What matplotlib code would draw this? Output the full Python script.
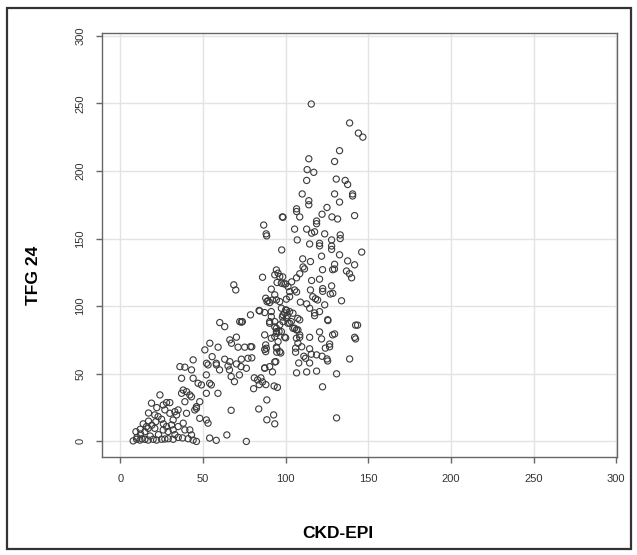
import matplotlib.pyplot as plt
from matplotlib.patches import Rectangle

plt.rcParams['font.family'] = ['Liberation Sans', 'DejaVu Sans']

# CKD-EPI (x) vs TFG 24 (y)
pts = [
    # low cluster
    (7.7,0.4),(9.8,1.6),(11.8,1),(14.8,1.6),(16.8,1),(19.8,1.6),(21.9,1),(24.9,1.6),(26.9,1.8),(28.9,2),(31.9,1.6),
    (9.4,7.2),(12.2,5.5),(14.8,7.2),(16.8,9.7),(20.8,9.7),(15.8,11),(13.8,13),(21.4,14.6),(22.8,18.4),(20.8,19.6),
    (24.9,16.4),(18.8,28.3),(23.9,34.4),(25.9,27),(27.9,28.7),(29.9,28.7),(26.9,23.3),(29.9,20.8),(32.9,22),
    (34.9,23.3),(34,19.6),(31.9,15.9),(30.9,12.2),(27.9,11),(25.9,8.5),(28.9,7.3),(31.9,8.5),(34.9,11),
    (10,3),(13,2),(18,4),(23,5),(12,9),(17,15),(19,12),(35,3),(33,5),(26,13),(22,25),(17,21),
    (37,35.6),(38,38),(40,36.8),(42,34.4),(39,29.4),(43,33),(46,25.7),(45,23.3),(40,20.8),(38,13.5),(39,8.5),
    (42,8.5),(43,4.8),(37,46.7),(36,55.3),(39,54.9),(43,52.9),(44,46.7),(47,43),(49,41.8),(52,49.2),(54,43),
    (55,41.8),(59,35.6),(52,35.6),(48,29.4),(46,24.5),(48,17.1),(52,15.9),(53,13.5),(53,56.6),(58,57.8),(60,52.9),
    (66,52.9),(67,48),(69,44.2),(72,49.2),(73,55.3),(46,0),(44,1),(41,2),(37.6,2.6),(54,2.5),(58,0.8),(64.4,4.8),
    (76.2,0),(67,23),
    # middle
    (86,121.4),(68.6,115.8),(69.8,112),(60.1,87.9),(63.1,84.9),(72.2,88.6),(73.8,88.6),(78.7,93.6),(83.9,96.8),
    (87.3,95.3),(91.3,96),(87.9,105.9),(89.3,104.1),(90.3,102.7),(88.7,103.4),(91.3,112.6),(93.4,108.4),
    (94.4,104.7),(96.4,103.4),(100.4,105.2),(94.4,126.8),(95.4,124.4),(93.4,123.2),(96.4,121.9),(94.8,117.5),
    (97.4,117),(100,116.5),(101.4,114.5),(102.4,110.8),(105.4,112),(97.4,98.5),(100,97.3),(102.4,96),(104.4,94.8),
    (98.4,93.6),(100.4,91.1),(103.4,88.6),(101.4,87.4),(98.4,88.6),(96.4,86.2),(93.4,88.6),(90.3,87.4),(91.3,92.3),
    (105.4,83.7),(107.4,82.5),(87.3,78.8),(94.4,81.2),(96,81.2),(93.4,77.5),(91.3,76.3),(95.4,73.8),(94.4,69.7),
    (96.4,66.4),(70.2,77.1),(66.2,75.1),(67.2,72.6),(54.1,72.6),(59.1,69.7),(71.2,69.7),(75.2,69.7),(78.7,70.1),
    (51.1,67.7),(87.9,71.4),(88.3,68.9),(87.9,66.4),(106.5,76.3),(107.4,72.6),(99.4,77.1),(55.5,62.7),(63.1,60.8),
    (73.2,60.8),(77.2,61.5),(44,60.3),(94,59),(52.1,57.8),(58.1,56.6),(65.1,55.8),(66.2,59),(70.2,57.3),(76.2,54.1),
    (87.3,54.1),(90.3,55.3),(86.7,160),(88.5,152),(88.2,153.5),(98.4,165.8),(97.6,141.6),(73.2,88.2),(84.3,96.5),
    (90.3,88.6),
    # right, upper
    (115.5,249.5),(138.7,235.5),(144,228),(146.7,225),(132.6,215),(114,209),(129.6,207),(113,201),(117,199),
    (130.6,194),(136,193),(137.5,190),(112.7,193),(110,183),(140.5,183),(140.5,181.5),(129.6,183),(114,175),
    (114,178),(132.6,177),(125,173),(106.6,172),(98,166),(106.6,170),(108.5,166),(122,168),(128,166),(131.4,164.5),
    (141.7,167),(118.7,161),(118.7,163),(105.4,157),(112.7,157),(115.7,154),(117.5,155),(123.6,153.5),(133,152.7),
    (133,150),(127.8,149),(107,149),(114.5,146),(120.5,144.6),(120.5,146.5),(127.8,142),(127.8,144.5),(121.7,137),
    (132.6,138),(146,140),(110.3,135),(115,133),(137.5,133.5),(141.7,130.6),(129.6,131),(111.4,127.6),(110.5,129),
    (122.3,127),(128.4,127),(129.5,127.5),(136.8,126),(138.6,124),(139.9,121),(108.5,124),(106.6,121),(115.7,119),
    (120.5,120),(98.2,121.7),(99,116.5),(103.6,118),(115,112),(122.4,113),(122.4,111),(127.8,115),(127,109),
    (128.5,109.5),(133.8,104),(106.6,110.5),(102.4,107),(116.4,107),(118,105.5),(119.3,104.6),(92,104.6),
    (112.7,101.7),(108.9,103),(123.6,101),(99.4,95),(101,93),(98,92),(100.5,97),(107.3,91),(117.5,95),(117.5,93),
    (114.5,98.5),(120.5,96),(125.4,90),(125.6,89.4),(142.3,86),(143.5,86),(94.6,80),(108.5,78.8),(120.5,81),
    (128.4,78.8),(141.7,77),(108.5,89.9),(102.4,87.4),(104.4,83.7),(106.5,82.5),(97.4,81.2),(94.4,83.7),(93.4,84.7),
    # right, lower
    (100,76.6),(108.5,77),(114.5,77),(121.7,75.8),(126.6,72),(126.6,70),(129.6,79.5),(142.3,75.8),(79.5,70),
    (87.3,68),(94.6,69),(94.6,66),(106,69),(106,66),(109.7,70),(114.5,68.5),(124,69),(79.5,61.8),(97,65.4),
    (111,63),(112,61.5),(118.7,64),(115.5,64.5),(122,63),(125.4,59.5),(125,61),(138.7,61),(114.5,58),(107.9,58),
    (93.4,58.8),(87.3,54.4),(92,51.4),(83,45.5),(81,47),(85,47),(86,44),(84,42),(88,42),(93,41),(95,40),(80.6,39),
    (106.6,50.7),(112.7,51.4),(118.7,52),(130.8,50),(122.3,40.4),(88.6,30.7),(83.7,24),(88.6,16),(92.7,19.6),
    (93.4,13),(130.8,17.4),
]
ckd_epi = [p[0] for p in pts]
tfg24 = [p[1] for p in pts]

ticks = [0, 50, 100, 150, 200, 250, 300]

fig = plt.figure(figsize=(6.37, 5.55), dpi=100)
ax = fig.add_axes([0.160, 0.1766, 0.8086, 0.7639])

ax.set_xticks(ticks)
ax.set_yticks(ticks)
ax.grid(True, color='#e3e3e3', linewidth=1)
ax.set_axisbelow(True)
ax.scatter(ckd_epi, tfg24, s=20, facecolors='none', edgecolors='#3a3a3a', linewidths=0.8, zorder=3)

ax.set_xlim(-11.2, 300.5)
ax.set_ylim(-11.5, 302)
for s in ax.spines.values():
    s.set_color('#666666')
    s.set_linewidth(1)
ax.tick_params(direction='out', length=4, width=1, color='#666666', labelsize=8, labelcolor='#333333', pad=8)
for lab in ax.get_yticklabels():
    lab.set_rotation(90)
    lab.set_va('center')

fig.text(338 / 637, 1 - 533 / 555, 'CKD-EPI', ha='center', va='center', fontsize=12.5, fontweight='bold')
fig.text(33 / 637, 1 - 275 / 555, 'TFG 24', ha='center', va='center', rotation=90, fontsize=12.5, fontweight='bold')

# outer frame round the picture
fig.patches.append(Rectangle((7 / 637, 1 - 549 / 555), 624 / 637, 541 / 555, transform=fig.transFigure,
                             fill=False, edgecolor='#333333', linewidth=1.6))

plt.savefig('out.png', dpi=100)
